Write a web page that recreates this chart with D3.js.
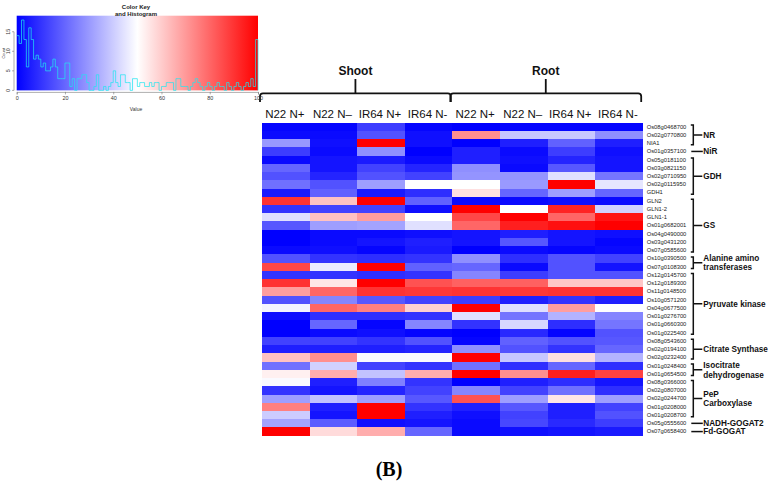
<!DOCTYPE html>
<html><head><meta charset="utf-8">
<script src="https://cdn.jsdelivr.net/npm/d3@7"></script>
<style>html,body{margin:0;padding:0;background:#fff;} svg{display:block;}</style>
</head><body>
<svg id="chart" width="771" height="484"></svg>
<script>
// ---------- data ----------
const genes = ["Os08g0468700","Os02g0770800","NIA1","Os01g0357100","Os05g0181100","Os03g0821150","Os02g0710950","Os02g0115950","GDH1","GLN2","GLN1-2","GLN1-1","Os01g0682001","Os04g0490000","Os03g0431200","Os07g0585600","Os10g0390500","Os07g0108300","Os12g0145700","Os12g0189300","Os11g0148500","Os10g0571200","Os04g0677500","Os01g0276700","Os01g0660300","Os01g0225400","Os08g0543600","Os02g0194100","Os02g0232400","Os01g0248400","Os01g0654500","Os08g0366000","Os02g0807000","Os02g0244700","Os01g0208000","Os01g0208700","Os05g0555600","Os07g0658400"];
const sampleLabels = ["N22 N+","N22 N\u2013","IR64 N+","IR64 N-","N22 N+","N22 N\u2013","IR64 N+","IR64 N-"];
const tissues = ["Shoot","Root"];
const tissueFirstSample = [0,4];
const tissueLastSample = [3,7];

// expression values (0-100 colour scale), one array per sample column
const shootN22Np  = [1,2,30,12,2,20,16,22,5,90,10,44,17,0,0,2,16,86,10,90,69,16,48,3,0,0,13,6,62,22,53,49,10,31,75,40,32,100];
const shootN22Nm  = [1,2,3,2,4,4,7,16,19,62,13,62,31,2,2,3,10,46,10,55,80,26,80,9,20,2,13,6,72,41,66,6,4,38,6,4,18,57];
const shootIR64Np = [12,16,100,28,5,13,16,31,5,100,13,69,32,2,4,1,9,100,9,100,90,17,75,9,1,3,10,6,49,13,38,25,7,31,100,100,3,66];
const shootIR64Nm = [1,3,3,0,2,7,13,50,9,19,3,50,44,3,6,5,10,19,10,84,89,13,59,10,26,1,16,7,49,10,66,10,13,17,10,6,4,20];
const rootN22Np   = [0,72,0,6,6,28,29,50,56,2,100,86,80,4,4,0,28,20,26,81,90,12,100,44,10,0,1,28,100,22,100,0,26,84,6,3,2,2];
const rootN22Nm   = [1,39,6,2,3,2,29,30,20,2,50,100,94,6,17,2,9,2,12,81,89,6,44,23,42,8,19,16,39,9,72,6,13,31,17,13,14,3];
const rootIR64Np  = [1,39,19,12,7,17,44,100,31,3,93,80,97,4,4,1,16,16,16,61,90,10,69,35,9,1,16,10,56,20,94,9,22,55,6,6,8,4];
const rootIR64Nm  = [1,28,6,3,4,4,23,45,20,2,41,96,100,3,1,2,13,4,16,61,90,6,50,26,23,16,17,20,35,9,87,4,9,31,13,16,12,5];
const sampleSeries = [shootN22Np, shootN22Nm, shootIR64Np, shootIR64Nm, rootN22Np, rootN22Nm, rootIR64Np, rootIR64Nm];

// gene groups
const groupLabels = [["NR"],["NiR"],["GDH"],["GS"],["Alanine amino","transferases"],["Pyruvate kinase"],["Citrate Synthase"],["Isocitrate","dehydrogenase"],["PeP","Carboxylase"],["NADH-GOGAT2"],["Fd-GOGAT"]];
const groupFirstGene = ["Os08g0468700","Os01g0357100","Os05g0181100","GLN2","Os10g0390500","Os12g0145700","Os08g0543600","Os01g0248400","Os08g0366000","Os05g0555600","Os07g0658400"];
const groupLastGene  = ["NIA1","Os01g0357100","GDH1","Os07g0585600","Os07g0108300","Os01g0225400","Os02g0232400","Os01g0654500","Os01g0208700","Os05g0555600","Os07g0658400"];

// colour key histogram (bins of width 1 over 0-100)
const histCounts = [14,12,18,13,6,16,13,8,9,8, 6,7,5,5,6,8,6,3,3,3, 7,7,1,3,0,3,3,4,4,2, 0,0,1,4,0,0,1,0,1,2, 5,2,1,4,4,2,2,0,3,3, 1,2,2,1,1,2,1,2,2,0, 1,1,2,2,2,0,3,3,1,1, 1,0,1,2,3,2,1,0,1,2, 1,0,1,2,1,1,0,2,1,0, 1,2,1,0,1,2,1,3,1,13];
const keyTicksX = [0,20,40,60,80,100];
const keyTicksY = [0,5,10,15];

// ---------- drawing ----------
const svg = d3.select("#chart");
const FONT = "Liberation Sans, Arial, sans-serif";

const color = d3.scaleLinear().domain([0,50,100]).range(["#0000ff","#ffffff","#ff0000"]);

// heatmap
const x = d3.scaleBand().domain(d3.range(sampleLabels.length)).range([262, 642.7]);
const y = d3.scaleBand().domain(genes).range([122.6, 435.7]);

const cells = [];
sampleSeries.forEach((ser, j) => ser.forEach((v, i) => cells.push({j, gene: genes[i], v})));
svg.append("g").selectAll("rect").data(cells).join("rect")
  .attr("x", d => x(d.j)).attr("y", d => y(d.gene))
  .attr("width", x.bandwidth()).attr("height", y.bandwidth())
  .attr("fill", d => color(d.v))
  .attr("shape-rendering", "crispEdges");

// gene labels
const ga = svg.append("g").attr("transform", "translate(642.7,0)")
  .call(d3.axisRight(y).tickSize(0).tickPadding(4));
ga.select(".domain").remove();
ga.selectAll("text").attr("font-family", FONT).attr("font-size", "5.8px").attr("fill", "#222");

// column labels
svg.append("g").selectAll("text").data(sampleLabels).join("text")
  .attr("x", (d, j) => x(j) + x.bandwidth()/2 - 1)
  .attr("y", 118.3)
  .attr("text-anchor", "middle")
  .attr("font-family", FONT).attr("font-size", "11.5px").attr("fill", "#111")
  .text(d => d);

// tissue braces
tissues.forEach((t, k) => {
  const left = x(tissueFirstSample[k]) - 2;
  const right = x(tissueLastSample[k]) + x.bandwidth() - 1.5;
  const cx = (left + right) / 2;
  const yl = 93.3, yb = 102;
  svg.append("path")
    .attr("d", `M${left},${yb} L${left},${yl+3} Q${left},${yl} ${left+3},${yl} L${right-3},${yl} Q${right},${yl} ${right},${yl+3} L${right},${yb}`)
    .attr("fill", "none").attr("stroke", "#111").attr("stroke-width", 1.8);
  svg.append("line").attr("x1", cx).attr("x2", cx).attr("y1", 79).attr("y2", yl)
    .attr("stroke", "#111").attr("stroke-width", 1.8);
  svg.append("text").attr("x", cx).attr("y", 75).attr("text-anchor", "middle")
    .attr("font-family", FONT).attr("font-size", "12px").attr("font-weight", "bold").attr("fill", "#111")
    .text(t);
});

// group brackets
const bx = 693.3;
groupLabels.forEach((lines, g) => {
  const top = y(groupFirstGene[g]);
  const bot = y(groupLastGene[g]) + y.bandwidth();
  const mid = (top + bot) / 2;
  const gg = svg.append("g");
  if (groupFirstGene[g] === groupLastGene[g]) {
    gg.append("line").attr("x1", bx - 2).attr("x2", bx + 9.5).attr("y1", mid).attr("y2", mid)
      .attr("stroke", "#111").attr("stroke-width", 1.5);
  } else {
    gg.append("path").attr("d", `M${bx-2.5},${top+2.5} H${bx} V${bot-2.5} H${bx-2.5} M${bx},${mid} H${bx+9}`)
      .attr("fill", "none").attr("stroke", "#111").attr("stroke-width", 1.5);
  }
  const n = lines.length;
  lines.forEach((ln, li) => {
    gg.append("text")
      .attr("x", bx + 10)
      .attr("y", mid + (li - (n - 1) / 2) * 9.8)
      .attr("dy", "0.35em")
      .attr("font-family", FONT).attr("font-size", "8.2px").attr("font-weight", "bold").attr("fill", "#111")
      .text(ln);
  });
});

// ---------- colour key ----------
const kx = d3.scaleLinear().domain([0,100]).range([16.7, 258]);
const ky = d3.scaleLinear().domain([0,19.1]).range([90.4, 15.7]);

const defs = svg.append("defs");
const grad = defs.append("linearGradient").attr("id", "keygrad").attr("x1", "0%").attr("x2", "100%");
[0,50,100].forEach(v => grad.append("stop").attr("offset", v + "%").attr("stop-color", color(v)));
svg.append("rect").attr("x", kx(0)).attr("y", ky(19.1)).attr("width", kx(100) - kx(0)).attr("height", ky(0) - ky(19.1))
  .attr("fill", "url(#keygrad)");

// histogram step line
const histPts = histCounts.map((c, i) => [i, c]);
histPts.push([100, histCounts[histCounts.length - 1]]);
histPts.push([100, 0]);
svg.append("path")
  .attr("d", d3.line().x(d => kx(d[0])).y(d => ky(d[1])).curve(d3.curveStepAfter)(histPts))
  .attr("fill", "none").attr("stroke", "#22e6f0").attr("stroke-opacity", 0.8).attr("stroke-width", 0.9);

// key x axis
const kxa = svg.append("g").attr("transform", `translate(0,${ky(0) + 1.5})`)
  .call(d3.axisBottom(kx).tickValues(keyTicksX).tickSize(2.5).tickPadding(1.5));
kxa.select(".domain").attr("stroke", "#777").attr("stroke-width", 0.6);
kxa.selectAll(".tick line").attr("stroke", "#777").attr("stroke-width", 0.6);
kxa.selectAll("text").attr("font-family", FONT).attr("font-size", "5.4px").attr("fill", "#333");
svg.append("text").attr("x", 136).attr("y", 110.5).attr("text-anchor", "middle")
  .attr("font-family", FONT).attr("font-size", "5px").attr("fill", "#333").text("Value");

// key y axis
svg.append("line").attr("x1", 14).attr("x2", 14).attr("y1", ky(0)).attr("y2", ky(15))
  .attr("stroke", "#777").attr("stroke-width", 0.6);
svg.append("g").selectAll("line").data(keyTicksY).join("line")
  .attr("x1", 12).attr("x2", 14).attr("y1", d => ky(d)).attr("y2", d => ky(d))
  .attr("stroke", "#777").attr("stroke-width", 0.6);
svg.append("g").selectAll("text").data(keyTicksY).join("text")
  .attr("transform", d => `translate(10,${ky(d)}) rotate(-90)`)
  .attr("text-anchor", "middle")
  .attr("font-family", FONT).attr("font-size", "5.4px").attr("fill", "#333")
  .text(d => d);
svg.append("text").attr("transform", `translate(4.5,${ky(9.5)}) rotate(-90)`)
  .attr("text-anchor", "middle")
  .attr("font-family", FONT).attr("font-size", "4px").attr("fill", "#333").text("Count");

// key title
svg.append("text").attr("x", 136).attr("y", 9).attr("text-anchor", "middle")
  .attr("font-family", FONT).attr("font-size", "6px").attr("font-weight", "bold").attr("fill", "#222").text("Color Key");
svg.append("text").attr("x", 136).attr("y", 16.3).attr("text-anchor", "middle")
  .attr("font-family", FONT).attr("font-size", "6px").attr("font-weight", "bold").attr("fill", "#222").text("and Histogram");

// panel label
svg.append("text").attr("x", 389).attr("y", 476).attr("text-anchor", "middle")
  .attr("font-family", "Liberation Serif, 'Times New Roman', serif").attr("font-size", "20px").attr("font-weight", "bold").attr("fill", "#000")
  .text("(B)");
</script>
</body></html>
